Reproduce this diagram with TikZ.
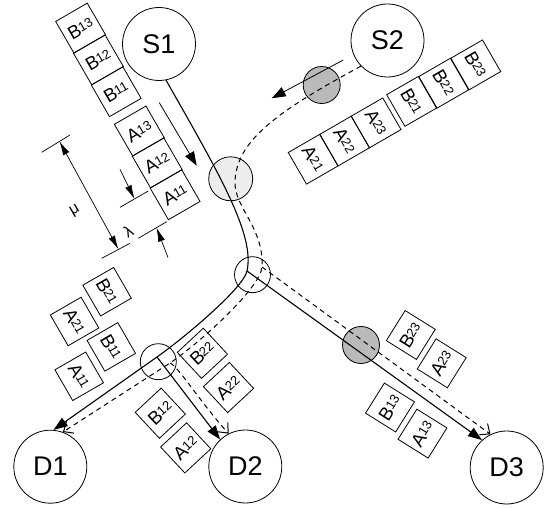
\documentclass[tikz,border=0pt]{standalone}
\usepackage{fontspec}
\setmainfont{Liberation Sans}
\usetikzlibrary{arrows.meta}
% packet label: capital letter followed by smaller index digits
\newcommand{\lb}[2]{#1\kern-0.5pt{\fontsize{13}{13}\selectfont\raisebox{2.5pt}{#2}}}

\begin{document}
\begin{tikzpicture}[x=1pt,y=-1pt,
  station/.style={draw, circle, minimum size=73pt, inner sep=0pt, line width=0.8pt,
                  font=\fontsize{27}{27}\selectfont},
  pkt/.style={draw, minimum size=36.5pt, inner sep=0pt, line width=0.8pt,
              font=\fontsize{18.5}{18.5}\selectfont},
  dpkt/.style={pkt, minimum size=35.5pt},
  ring/.style={draw, circle, inner sep=0pt, line width=0.8pt},
  flow/.style={line width=1.1pt, -{Triangle[length=14pt,width=10pt]}},
  dflow/.style={line width=1pt, dash pattern=on 5pt off 4pt,
                -{Straight Barb[length=8pt,width=14pt]}},
  dimline/.style={line width=0.7pt},
  dimarrow/.style={line width=0.7pt, -{Latex[length=14pt,width=7pt]}},
  glyph/.style={font=\fontsize{16}{16}\selectfont, inner sep=0pt}
]
\useasboundingbox (0,0) rectangle (550,508);

% shared-link markers (drawn first so the flows run over them)
\node[ring, minimum size=44pt, fill=black!7]  (r1) at (230.7,178.8) {};
\node[ring, minimum size=37pt, fill=black!27] (r2) at (321.7,85) {};
\node[ring, minimum size=37pt, fill=black!27] (r3) at (361,345) {};
\node[ring, minimum size=36pt] (r4) at (252.5,274.7) {};
\node[ring, minimum size=36pt] (r5) at (158.3,361.7) {};

% sources and destinations
\node[station] (S1) at (159,44) {S1};
\node[station] (S2) at (387.5,40.5) {S2};
\node[station] (D1) at (50.3,466.7) {D1};
\node[station] (D2) at (245.3,466.5) {D2};
\node[station] (D3) at (506.7,467.5) {D3};

% branching points
\coordinate (J)  at (247,271);
\coordinate (B1) at (157,357);
\coordinate (M)  at (235,183);
\coordinate (J2) at (262,267);
\coordinate (K)  at (170,363);

% multicast tree of S1 (solid)
\draw[flow] (S1.-79) .. controls (220,175) and (255,235) .. (J)
            .. controls (243,289) and (181.5,339.8) .. (B1) -- (D1.85);
\draw[flow] (J) -- (D3.132);
\draw[flow] (B1) -- (D2.133);

% multicast tree of S2 (dashed)
\draw[dflow] (S2.-136) .. controls (281.2,109.4) and (235,140) .. (M)
             .. controls (235,208) and (264,228) .. (J2)
             .. controls (260.5,288) and (199,343.6) .. (K) -- (D1.70);
\draw[dflow] (J2) -- (D3.116);
\draw[dflow] (K) .. controls (178,366) and (198.8,400.3) .. (D2.117);

% packet queue of S1
\node[pkt, rotate=30] (b13) at (80.6,28.1)   {\lb{B}{13}};
\node[pkt, rotate=30] (b12) at (98.4,59.9)   {\lb{B}{12}};
\node[pkt, rotate=30] (b11) at (116.2,91.7)  {\lb{B}{11}};
\node[pkt, rotate=30] (a13) at (139.3,131)   {\lb{A}{13}};
\node[pkt, rotate=30] (a12) at (157.2,162.9) {\lb{A}{12}};
\node[pkt, rotate=30] (a11) at (175.1,194.8) {\lb{A}{11}};

% packet queue of S2
\node[pkt, rotate=-60] (a21) at (313.2,159.2) {\lb{A}{21}};
\node[pkt, rotate=-60] (a22) at (344.6,141.1) {\lb{A}{22}};
\node[pkt, rotate=-60] (a23) at (376.1,122.9) {\lb{A}{23}};
\node[pkt, rotate=-60] (b21) at (411.6,101.4) {\lb{B}{21}};
\node[pkt, rotate=-60] (b22) at (443.7,83.2)  {\lb{B}{22}};
\node[pkt, rotate=-60] (b23) at (475.8,64.9)  {\lb{B}{23}};

% packets delivered towards D1
\node[dpkt, rotate=-60] (d1b21) at (107.1,291.7) {\lb{B}{21}};
\node[dpkt, rotate=-60] (d1a21) at (74.6,321.5)  {\lb{A}{21}};
\node[dpkt, rotate=-60] (d1b11) at (111.3,346.9) {\lb{B}{11}};
\node[dpkt, rotate=-60] (d1a11) at (79.2,376.3)  {\lb{A}{11}};

% packets delivered towards D2
\node[dpkt, rotate=43] (d2b22) at (202.4,353.3) {\lb{B}{22}};
\node[dpkt, rotate=43] (d2a22) at (228.5,387.5) {\lb{A}{22}};
\node[dpkt, rotate=43] (d2b12) at (160.3,413.2) {\lb{B}{12}};
\node[dpkt, rotate=43] (d2a12) at (185.7,447.9) {\lb{A}{12}};

% packets delivered towards D3
\node[dpkt, rotate=58] (d3b23) at (410.8,335)   {\lb{B}{23}};
\node[dpkt, rotate=58] (d3a23) at (441.7,363.3) {\lb{A}{23}};
\node[dpkt, rotate=58] (d3b13) at (390,407.5)   {\lb{B}{13}};
\node[dpkt, rotate=58] (d3a13) at (422.5,433.6) {\lb{A}{13}};

% sending direction of each queue
\coordinate (ar1) at (159.3,102.7);
\coordinate (ar2) at (196.7,165.7);
\draw[flow, line width=0.8pt] (ar1) -- (ar2);
\coordinate (as1) at (343.3,60);
\coordinate (as2) at (271.7,98.3);
\draw[flow, line width=0.8pt] (as1) -- (as2);

% dimensioning of period mu and packet length lambda
\coordinate (e1a) at (41.7,152.3);  \coordinate (e1b) at (70,135);
\coordinate (e2a) at (101.7,258.3); \coordinate (e2b) at (130,243.3);
\coordinate (e3a) at (120,207.3);   \coordinate (e3b) at (148.3,191);
\coordinate (e4a) at (138.3,238.3); \coordinate (e4b) at (166.7,221.7);
\draw[dimline] (e1a) -- (e1b);
\draw[dimline] (e2a) -- (e2b);
\draw[dimline] (e3a) -- (e3b);
\draw[dimline] (e4a) -- (e4b);

\coordinate (mu1) at (59.5,141.4);
\coordinate (mu2) at (118.5,249.4);
\draw[line width=0.7pt, {Latex[length=14pt,width=7pt]}-{Latex[length=14pt,width=7pt]}] (mu1) -- (mu2);
\coordinate (la1) at (120,169.3);
\coordinate (la2) at (134.5,199);
\draw[dimarrow] (la1) -- (la2);
\coordinate (lb1) at (168,257.5);
\coordinate (lb2) at (156.5,227.7);
\draw[dimarrow] (lb1) -- (lb2);

\node[glyph, rotate=30] (mu) at (75,211) {μ};
\node[glyph, rotate=30] (la) at (128.5,231) {λ};
\end{tikzpicture}
\end{document}
